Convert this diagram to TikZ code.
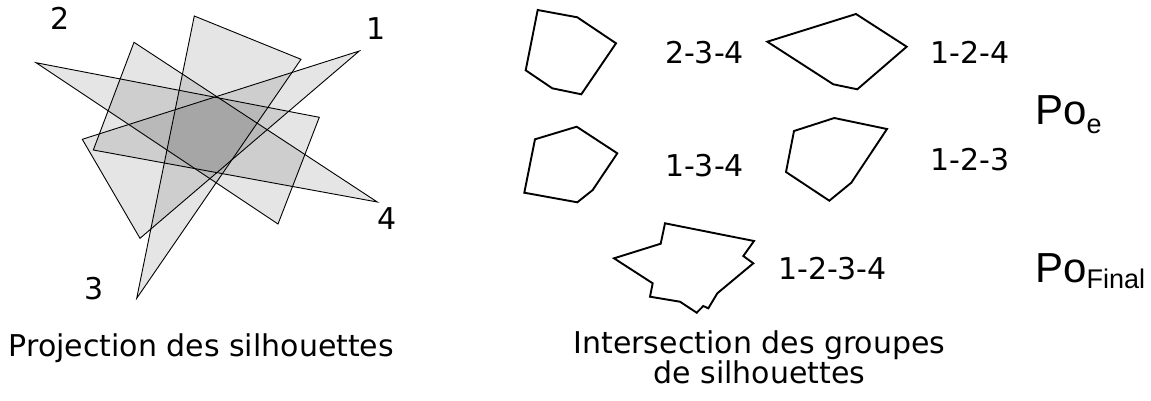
\documentclass[tikz,border=0pt]{standalone}
\usepackage{fontspec}
\setmainfont{DejaVu Sans}
\newfontfamily\arialfont{Liberation Sans}
\begin{document}
\begin{tikzpicture}[x=1pt,y=-1pt,
  sil/.style={draw=black,line width=0.9pt,fill=black,fill opacity=0.1,line join=miter},
  inter/.style={draw=black,line width=1.9pt,line join=miter},
  lbl/.style={inner sep=0pt,font=\fontsize{30}{30}\selectfont},
  captext/.style={inner sep=0pt,font=\fontsize{30}{27.3}\selectfont,align=center},
  po/.style={inner sep=0pt,anchor=base west}]
\useasboundingbox (0,0) rectangle (1151,400);
% silhouettes
\draw[sil] (359.3,51) -- (82.3,139.3) -- (140,238.3) -- cycle;
\draw[sil] (36,62.7) -- (319.3,117.3) -- (278,224) -- cycle;
\draw[sil] (194.3,16) -- (301,59.3) -- (136.7,298.3) -- cycle;
\draw[sil] (134,42.3) -- (377.3,202) -- (93.3,150) -- cycle;
\node[lbl] (l2) at (60.5,18.8) {2};
\node[lbl] (l1) at (376,28.8) {1};
\node[lbl] (l4) at (386.7,219) {4};
\node[lbl] (l3) at (94,288.7) {3};
% intersections
\draw[inter] (537.7,10) -- (577.3,17.3) -- (616,43.3) -- (581.3,94.3) -- (552.3,88.3) -- (525.7,70.3) -- cycle;
\draw[inter] (767.3,41.7) -- (856,14) -- (906.7,46.7) -- (857.3,89.3) -- (833.3,84.3) -- cycle;
\draw[inter] (535,139.3) -- (576.7,126.7) -- (617.3,153.3) -- (592.7,190) -- (577.3,202.3) -- (524.3,192.7) -- cycle;
\draw[inter] (794,131) -- (834.3,118) -- (887,129) -- (851.3,182.7) -- (829.3,200.7) -- (786,172) -- cycle;
\draw[inter] (665,223.3) -- (754,241) -- (743.3,256) -- (753.3,263.3) -- (717.3,293.3) -- (708.3,308.3) -- (703.3,306) -- (696.7,312.7) -- (680,301.7) -- (650,296.7) -- (652.7,283.3) -- (614,258.3) -- (660.7,243.7) -- cycle;
\node[lbl] (g234) at (704.5,52.5) {2-3-4};
\node[lbl] (g124) at (970.3,52.2) {1-2-4};
\node[lbl] (g134) at (704.5,165.8) {1-3-4};
\node[lbl] (g123) at (970.3,159.2) {1-2-3};
\node[lbl] (g1234) at (832.5,268.5) {1-2-3-4};
\node[po] (poe) at (1035,124.5) {\arialfont\fontsize{42}{42}\selectfont Po\raisebox{-9pt}{\fontsize{27}{27}\selectfont e}};
\node[po] (pof) at (1035,282) {\arialfont\fontsize{42}{42}\selectfont Po\raisebox{-6pt}{\fontsize{27}{27}\selectfont Final}};
% captions
\node[captext,anchor=base] (c1) at (201.4,356) {Projection des silhouettes};
\node[captext,anchor=base] (c2) at (759.5,383.3) {Intersection des groupes\\de silhouettes};
\end{tikzpicture}
\end{document}
